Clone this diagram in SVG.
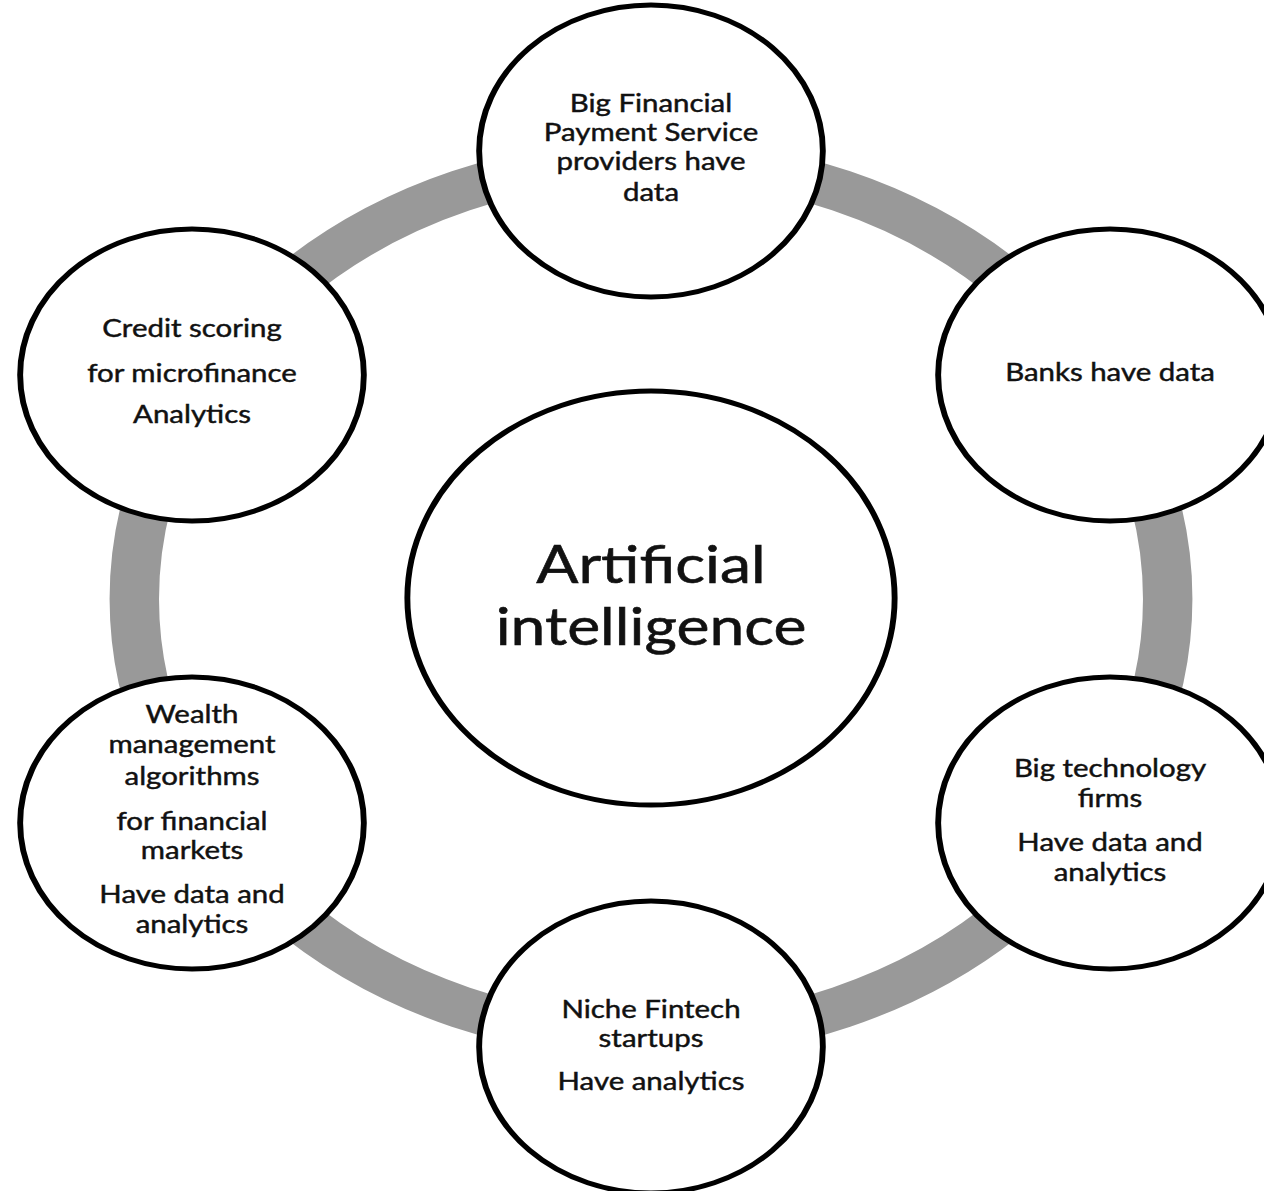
<svg xmlns="http://www.w3.org/2000/svg" width="1264" height="1191" viewBox="0 0 1264 1191">
<style>
.ring{fill:none;stroke:#999999;stroke-width:42}
.node{fill:#ffffff;stroke:#000000;stroke-width:5}
.t{font-family:Lato,"Liberation Sans",sans-serif;font-size:25px;fill:#111111;stroke:#111111;stroke-width:0.45;text-anchor:middle}
.big{font-size:53px;stroke-width:0.6}
</style>
<rect width="1264" height="1191" fill="#ffffff"/>
<g id="connectors">
<circle class="ring" cx="0" cy="0" r="439" transform="translate(651,599) scale(1.177,1)"/>
</g>
<g id="center" transform="translate(651,0) scale(1.177,1)">
<circle class="node" cx="0" cy="598" r="207"/>
<text class="t big" x="0" y="583">Artificial</text>
<text class="t big" x="0" y="645">intelligence</text>
</g>
<g id="n-top" transform="translate(651,0) scale(1.177,1)">
<circle class="node" cx="0" cy="151" r="146"/>
<text class="t" x="0" y="112">Big Financial</text>
<text class="t" x="0" y="141">Payment Service</text>
<text class="t" x="0" y="170">providers have</text>
<text class="t" x="0" y="201">data</text>
</g>
<g id="n-banks" transform="translate(1110,0) scale(1.177,1)">
<circle class="node" cx="0" cy="375" r="146"/>
<text class="t" x="0" y="381">Banks have data</text>
</g>
<g id="n-tech" transform="translate(1110,0) scale(1.177,1)">
<circle class="node" cx="0" cy="823" r="146"/>
<text class="t" x="0" y="777">Big technology</text>
<text class="t" x="0" y="807">firms</text>
<text class="t" x="0" y="851">Have data and</text>
<text class="t" x="0" y="881">analytics</text>
</g>
<g id="n-niche" transform="translate(651,0) scale(1.177,1)">
<circle class="node" cx="0" cy="1047" r="146"/>
<text class="t" x="0" y="1018">Niche Fintech</text>
<text class="t" x="0" y="1047">startups</text>
<text class="t" x="0" y="1090">Have analytics</text>
</g>
<g id="n-wealth" transform="translate(192,0) scale(1.177,1)">
<circle class="node" cx="0" cy="823" r="146"/>
<text class="t" x="0" y="723">Wealth</text>
<text class="t" x="0" y="753">management</text>
<text class="t" x="0" y="785">algorithms</text>
<text class="t" x="0" y="830">for financial</text>
<text class="t" x="0" y="859">markets</text>
<text class="t" x="0" y="903">Have data and</text>
<text class="t" x="0" y="933">analytics</text>
</g>
<g id="n-credit" transform="translate(192,0) scale(1.177,1)">
<circle class="node" cx="0" cy="375" r="146"/>
<text class="t" x="0" y="337">Credit scoring</text>
<text class="t" x="0" y="382">for microfinance</text>
<text class="t" x="0" y="423">Analytics</text>
</g>
</svg>
